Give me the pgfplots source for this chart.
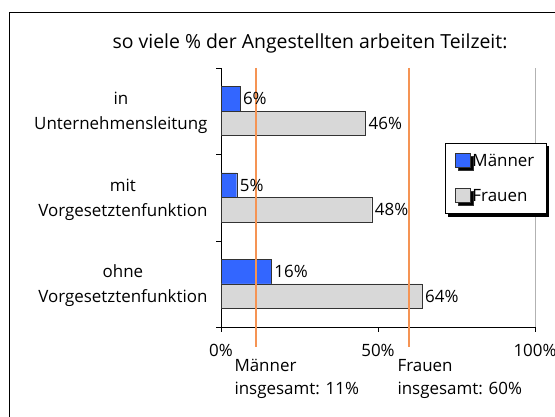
\documentclass[border=0pt]{standalone}
\usepackage{pgfplots}
\pgfplotsset{compat=1.18}
\usepackage{fontspec}
\setmainfont{Open Sans}
\usetikzlibrary{shadows}
\definecolor{mblue}{RGB}{51,102,255}
\definecolor{fgray}{RGB}{216,216,216}
\definecolor{vorange}{rgb}{0.96,0.58,0.33}
\begin{document}
\begin{tikzpicture}[font=\fontsize{17}{20}\selectfont]
\useasboundingbox (0,0) rectangle (555bp,417bp);
\draw[line width=1.2bp] (9.5bp,-20bp) -- (9.5bp,404.5bp) -- (600bp,404.5bp);
\node[font=\fontsize{19.5}{22}\selectfont] at (310bp,374bp) {so viele \% der Angestellten arbeiten Teilzeit:};
\begin{axis}[
  at={(221bp,90bp)}, anchor=south west, scale only axis,
  width=314bp, height=259bp,
  xmin=0, xmax=100, ymin=-0.5, ymax=2.5,
  axis x line=bottom, axis y line=left, axis line style={-, black},
  clip=false,
  /pgf/number format/assume math mode=true,
  tick align=outside, major tick length=5bp,
  xtick={0,50,100}, xticklabels={0\%,50\%,100\%},
  xticklabel style={yshift=-9bp},
  ytick={-0.5,0.5,1.5,2.5}, yticklabels={\relax,\relax,\relax,\relax},
  extra y ticks={0,1,2},
  extra y tick labels={{ohne\\Vorgesetztenfunktion},{mit\\Vorgesetztenfunktion},{in\\Unternehmensleitung}},
  extra y tick style={major tick length=0pt, yticklabel style={align=center, font=\fontsize{17}{25}\selectfont, xshift=-10bp, yshift=-2bp}},
  tick style={black},
  legend style={at={(0.713,0.710)}, anchor=north west, draw=black, fill=white,
    drop shadow={shadow xshift=3bp, shadow yshift=-3bp, fill=black, opacity=1},
    row sep=17bp, inner xsep=10bp, inner ysep=9bp, font=\fontsize{17}{20}\selectfont},
  legend cell align=left,
  legend image code/.code={\draw[#1, draw=black!80] (0bp,-6bp) rectangle (15bp,8bp);},
]
\addplot[xbar, bar width=24.5bp, bar shift=0pt, fill=mblue, draw=black!80,
  point meta=x, nodes near coords={\pgfmathprintnumber{\pgfplotspointmeta}\%},
  nodes near coords style={font=\fontsize{17}{20}\selectfont, inner xsep=3bp}]
  coordinates {(16,0.142) (5,1.142) (6,2.142)};
\addlegendentry{Männer}
\addplot[xbar, bar width=24.5bp, bar shift=0pt, fill=fgray, draw=black!80,
  point meta=x, nodes near coords={\pgfmathprintnumber{\pgfplotspointmeta}\%},
  nodes near coords style={font=\fontsize{17}{20}\selectfont, inner xsep=3bp}]
  coordinates {(64,-0.142) (48,0.858) (46,1.858)};
\addlegendentry{Frauen}
\addplot[draw=gray!60, line width=1bp, forget plot] coordinates {(100,-0.5) (100,2.5)};
\addplot[draw=vorange, line width=2bp, forget plot] coordinates {(11,2.5) (11,-0.73)};
\addplot[draw=vorange, line width=2bp, forget plot] coordinates {(60,2.5) (60,-0.73)};
\end{axis}
\node[anchor=north west, align=left, font=\fontsize{17}{23}\selectfont] at (231bp,61bp) {Männer\\insgesamt: 11\%};
\node[anchor=north west, align=left, font=\fontsize{17}{23}\selectfont] at (394bp,61bp) {Frauen\\insgesamt: 60\%};
\end{tikzpicture}
\end{document}
